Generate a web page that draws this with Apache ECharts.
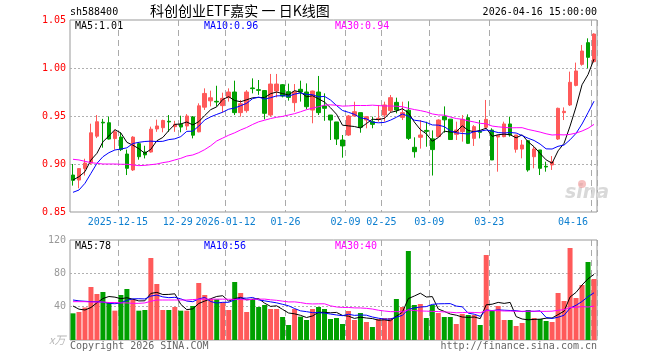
<!DOCTYPE html>
<html>
<head>
<meta charset="utf-8">
<script src="https://cdn.jsdelivr.net/npm/echarts@6.0.0/dist/echarts.min.js"></script>
<style>html,body{margin:0;padding:0;background:#fff;}#c{width:660px;height:360px;}</style>
</head>
<body>
<div id="c"></div>
<script>
// ---- data ----
const dates = [
'2025-12-03','2025-12-04','2025-12-05','2025-12-08','2025-12-09','2025-12-10','2025-12-11','2025-12-12','2025-12-15','2025-12-16',
'2025-12-17','2025-12-18','2025-12-19','2025-12-22','2025-12-23','2025-12-24','2025-12-25','2025-12-26','2025-12-29','2025-12-30',
'2025-12-31','2026-01-05','2026-01-06','2026-01-07','2026-01-08','2026-01-09','2026-01-12','2026-01-13','2026-01-14','2026-01-15',
'2026-01-16','2026-01-19','2026-01-20','2026-01-21','2026-01-22','2026-01-23','2026-01-26','2026-01-27','2026-01-28','2026-01-29',
'2026-01-30','2026-02-02','2026-02-03','2026-02-04','2026-02-05','2026-02-06','2026-02-09','2026-02-10','2026-02-11','2026-02-12',
'2026-02-13','2026-02-24','2026-02-25','2026-02-26','2026-02-27','2026-03-02','2026-03-03','2026-03-04','2026-03-05','2026-03-06',
'2026-03-09','2026-03-10','2026-03-11','2026-03-12','2026-03-13','2026-03-16','2026-03-17','2026-03-18','2026-03-19','2026-03-20',
'2026-03-23','2026-03-24','2026-03-25','2026-03-26','2026-03-27','2026-03-30','2026-03-31','2026-04-01','2026-04-02','2026-04-03',
'2026-04-07','2026-04-08','2026-04-09','2026-04-10','2026-04-13','2026-04-14','2026-04-15','2026-04-16'];

const opens = [
0.8885,0.8833,0.8952,0.9010,0.9290,0.9435,0.9430,0.9265,0.9280,0.9104,
0.8938,0.9212,0.9125,0.9125,0.9365,0.9378,0.9445,0.9389,0.9413,0.9396,
0.9490,0.9335,0.9592,0.9658,0.9653,0.9608,0.9691,0.9750,0.9535,0.9556,
0.9792,0.9774,0.9765,0.9510,0.9760,0.9826,0.9753,0.9639,0.9778,0.9750,
0.9562,0.9750,0.9604,0.9510,0.9438,0.9250,0.9302,0.9500,0.9535,0.9458,
0.9441,0.9465,0.9510,0.9556,0.9642,0.9486,0.9560,0.9174,0.9278,0.9350,
0.9262,0.9285,0.9493,0.9467,0.9309,0.9337,0.9483,0.9267,0.9340,0.9382,
0.9354,0.9281,0.9285,0.9417,0.9153,0.9156,0.9243,0.9076,0.9146,0.8976,
0.8990,0.9260,0.9535,0.9615,0.9819,1.0038,1.0264,1.0066];
const closes = [
0.8830,0.8952,0.9010,0.9325,0.9440,0.9428,0.9260,0.9335,0.9150,0.8955,
0.9280,0.9076,0.9095,0.9363,0.9396,0.9453,0.9438,0.9413,0.9385,0.9500,
0.9300,0.9606,0.9735,0.9690,0.9646,0.9684,0.9750,0.9535,0.9628,0.9750,
0.9785,0.9767,0.9528,0.9833,0.9833,0.9708,0.9694,0.9753,0.9750,0.9597,
0.9760,0.9535,0.9580,0.9458,0.9260,0.9188,0.9500,0.9545,0.9382,0.9493,
0.9413,0.9476,0.9615,0.9691,0.9562,0.9535,0.9267,0.9128,0.9302,0.9340,
0.9150,0.9458,0.9460,0.9255,0.9354,0.9465,0.9215,0.9389,0.9330,0.9465,
0.9042,0.9299,0.9417,0.9302,0.9302,0.9198,0.8938,0.9156,0.8955,0.8969,
0.9024,0.9580,0.9549,0.9851,0.9969,1.0177,1.0111,1.0354];
const highs = [
0.9000,0.8958,0.9055,0.9420,0.9510,0.9470,0.9495,0.9360,0.9330,0.9150,
0.9290,0.9228,0.9190,0.9389,0.9462,0.9462,0.9510,0.9450,0.9503,0.9520,
0.9500,0.9632,0.9788,0.9764,0.9815,0.9743,0.9788,0.9868,0.9667,0.9770,
0.9892,0.9875,0.9770,0.9938,0.9938,0.9833,0.9837,0.9833,0.9868,0.9840,
0.9764,0.9917,0.9736,0.9510,0.9438,0.9302,0.9510,0.9649,0.9535,0.9500,
0.9493,0.9615,0.9649,0.9719,0.9691,0.9649,0.9653,0.9278,0.9458,0.9440,
0.9350,0.9465,0.9600,0.9467,0.9441,0.9510,0.9517,0.9406,0.9458,0.9667,
0.9372,0.9302,0.9441,0.9493,0.9302,0.9250,0.9243,0.9180,0.9146,0.9024,
0.9083,0.9587,0.9590,0.9962,1.0056,1.0240,1.0309,1.0361];
const lows = [
0.8775,0.8747,0.8880,0.8995,0.9270,0.9170,0.9255,0.9150,0.9135,0.8885,
0.8927,0.9045,0.9058,0.9118,0.9335,0.9330,0.9335,0.9335,0.9330,0.9354,
0.9267,0.9330,0.9563,0.9600,0.9600,0.9535,0.9650,0.9510,0.9493,0.9535,
0.9736,0.9720,0.9465,0.9493,0.9694,0.9694,0.9660,0.9545,0.9650,0.9570,
0.9424,0.9510,0.9450,0.9250,0.9198,0.9066,0.9292,0.9493,0.9326,0.9372,
0.9372,0.9441,0.9441,0.9535,0.9528,0.9458,0.9250,0.9066,0.9160,0.9180,
0.8880,0.9278,0.9326,0.9250,0.9250,0.9233,0.9208,0.9188,0.9267,0.9372,
0.9042,0.8920,0.9278,0.9285,0.9118,0.9059,0.8920,0.8955,0.8885,0.8920,
0.8938,0.9250,0.9458,0.9604,0.9809,1.0024,0.9997,1.0056];
// volume, unit: 10k
const volumes = [
32,33.6,39,63.6,55.2,57.6,45.6,35.2,54,61.2,
48.8,35.2,36,98.4,67.2,36,36,39.6,35.2,35.2,
40.8,68.4,54,49.2,48.8,45.2,36,69.6,56.4,33.6,
49.2,39.6,42,37.2,37.2,27.6,18,37.2,28,24,
37.2,39.6,37.2,25.2,26.4,19.2,34.8,24,32.4,21.6,
15.6,25.2,26.4,26.4,49.2,39.6,106.8,42,43.2,26.4,
42,32.4,27.6,27.6,19.2,31.2,30,30,18,102,
34.8,40.8,24,24,16.8,20.4,36,26.4,25.2,22.8,
21.6,56.4,46.8,110.4,50.4,66,93.6,73.2];

// moving-average values before a full window exists
const ma5Lead  = [0.8833,0.8868,0.8920,0.9042];
const ma10Lead = [0.8705,0.8729,0.8799,0.8903,0.9007,0.9076,0.9118,0.9146,0.9156];
const ma30Lead = [0.9049,0.9042,0.9028,0.9014,0.9007,0.9000,0.9000,0.9000,0.8997,0.8997,
  0.8990,0.8983,0.8986,0.8993,0.9000,0.9014,0.9024,0.9042,0.9059,0.9083,
  0.9094,0.9118,0.9150,0.9190,0.9240,0.9270,0.9300,0.9325,0.9355];
const volMa5Lead  = [40.8,37,36,39];
const volMa10Lead = [48,47,46.5,46,46,45.5,44,43.5,44.5];
const volMa30Lead = [46,46,46,45.6,45.6,45.6,45,45,44.5,44.5,44,44,44.5,46.5,48,48,48,48,48,48,48.5,49,49,49,49,49,48.9,48.8,48.6];

// x tick labels
const tickLabels = {
 '2025-12-15':'2025-12-15','2025-12-29':'12-29','2026-01-12':'2026-01-12','2026-01-26':'01-26',
 '2026-02-09':'02-09','2026-02-25':'02-25','2026-03-09':'03-09','2026-03-23':'03-23','2026-04-16':'04-16'};
const priceTicks = [0.85, 0.90, 0.95, 1.00, 1.05];
const volTicks = [40, 80, 120];

// ---- derived ----
function movingAvg(vals, n, lead) {
  return vals.map((v, i) => {
    if (i < n - 1) return lead[i];
    let s = 0; for (let k = i - n + 1; k <= i; k++) s += vals[k];
    return +(s / n).toFixed(5);
  });
}
const ma5 = movingAvg(closes, 5, ma5Lead);
const ma10 = movingAvg(closes, 10, ma10Lead);
const ma30 = movingAvg(closes, 30, ma30Lead);
const vma5 = movingAvg(volumes, 5, volMa5Lead);
const vma10 = movingAvg(volumes, 10, volMa10Lead);
const vma30 = movingAvg(volumes, 30, volMa30Lead);

const UP = '#ff5a5a', DOWN = '#00a000';
const kData = dates.map((d, i) => [opens[i], closes[i], lows[i], highs[i]]);
const volData = volumes.map((v, i) => ({value: v, itemStyle: {color: closes[i] > opens[i] ? UP : DOWN}}));

const MONO = '"DejaVu Sans Mono", "Liberation Mono", monospace';
const showTick = (idx, val) => tickLabels.hasOwnProperty(val);
const gridDash = {color: '#aaaaaa', type: [6, 4], width: 1};
const gridDot = {color: '#b0b0b0', type: [2, 2], width: 1};

function lineSeries(name, data, color, xi, yi) {
  return {name, type: 'line', data, xAxisIndex: xi, yAxisIndex: yi, showSymbol: false, symbol: 'none',
    lineStyle: {color, width: 1}, itemStyle: {color}, z: 5, silent: true};
}

const chart = echarts.init(document.getElementById('c'), null, {renderer: 'canvas'});
chart.setOption({
  animation: false,
  backgroundColor: '#fff',
  grid: [
    {left: 70, top: 20, width: 527, height: 192, show: true, borderColor: '#999', borderWidth: 1},
    {left: 70, top: 240, width: 527, height: 100, show: true, borderColor: '#999', borderWidth: 1}
  ],
  xAxis: [
    {type: 'category', gridIndex: 0, data: dates, boundaryGap: true,
      axisLine: {show: false}, axisTick: {show: false},
      axisLabel: {interval: showTick, formatter: v => tickLabels[v] || '', color: '#0d7fd0',
        fontFamily: MONO, fontSize: 10, margin: 5, padding: [0, 6, 0, 0], alignMaxLabel: 'right'},
      splitLine: {show: true, interval: showTick, lineStyle: gridDash}},
    {type: 'category', gridIndex: 1, data: dates, boundaryGap: true,
      axisLine: {show: false}, axisTick: {show: false}, axisLabel: {show: false},
      splitLine: {show: true, interval: showTick, lineStyle: gridDash}}
  ],
  yAxis: [
    {type: 'value', gridIndex: 0, min: priceTicks[0], max: priceTicks[priceTicks.length - 1], interval: 0.05,
      axisLine: {show: false}, axisTick: {show: false},
      axisLabel: {formatter: v => v.toFixed(2), color: '#ff0000', fontFamily: MONO, fontSize: 10, margin: 4},
      splitLine: {show: true, showMinLine: false, showMaxLine: false, lineStyle: gridDot}},
    {type: 'value', gridIndex: 1, min: 0, max: volTicks[volTicks.length - 1], interval: 40,
      axisLine: {show: false}, axisTick: {show: false},
      axisLabel: {formatter: v => (volTicks.indexOf(v) >= 0 ? String(v) : ''), color: '#999', fontFamily: MONO, fontSize: 10, margin: 4},
      splitLine: {show: true, showMinLine: false, showMaxLine: false, lineStyle: gridDot}}
  ],
  series: [
    {name: 'K', type: 'candlestick', data: kData, xAxisIndex: 0, yAxisIndex: 0, barWidth: 4,
      itemStyle: {color: UP, color0: DOWN, borderColor: UP, borderColor0: DOWN, borderWidth: 1}, z: 3, silent: true},
    lineSeries('MA5', ma5, '#000000', 0, 0),
    lineSeries('MA10', ma10, '#0000ff', 0, 0),
    lineSeries('MA30', ma30, '#ff00ff', 0, 0),
    {name: 'VOL', type: 'bar', data: volData, xAxisIndex: 1, yAxisIndex: 1, barWidth: 5, z: 3, silent: true},
    lineSeries('VMA5', vma5, '#000000', 1, 1),
    lineSeries('VMA10', vma10, '#0000ff', 1, 1),
    lineSeries('VMA30', vma30, '#ff00ff', 1, 1)
  ],
  graphic: [
    {type: 'text', left: 70, top: 7, style: {text: 'sh588400', font: '10px ' + MONO, fill: '#000'}},
    {type: 'text', left: 150, top: 4, style: {text: '科创创业ETF嘉实 一 日K线图', font: '14px "Noto Sans CJK SC"', fill: '#000'}},
    {type: 'text', right: 63, top: 7, style: {text: '2026-04-16 15:00:00', font: '10px ' + MONO, fill: '#000'}},
    {type: 'text', left: 75, top: 21, style: {text: 'MA5:1.01', font: '10px ' + MONO, fill: '#000'}},
    {type: 'text', left: 204, top: 21, style: {text: 'MA10:0.96', font: '10px ' + MONO, fill: '#0000ff'}},
    {type: 'text', left: 335, top: 21, style: {text: 'MA30:0.94', font: '10px ' + MONO, fill: '#ff00ff'}},
    {type: 'text', left: 75, top: 241, style: {text: 'MA5:78', font: '10px ' + MONO, fill: '#000'}},
    {type: 'text', left: 204, top: 241, style: {text: 'MA10:56', font: '10px ' + MONO, fill: '#0000ff'}},
    {type: 'text', left: 335, top: 241, style: {text: 'MA30:40', font: '10px ' + MONO, fill: '#ff00ff'}},
    {type: 'text', left: 49, top: 334, style: {text: 'x万', font: 'italic 11px "Noto Sans CJK SC"', fill: '#b8b8b8'}},
    {type: 'text', left: 70, top: 341, style: {text: 'Copyright 2026 SINA.COM', font: '10px ' + MONO, fill: '#666'}},
    {type: 'text', right: 63, top: 341, style: {text: 'http://finance.sina.com.cn', font: '10px ' + MONO, fill: '#666'}},
    {type: 'text', left: 565, top: 184, z: 1, style: {text: 'sina', font: 'italic bold 19px "DejaVu Sans"', fill: '#d9d9d9'}},
    {type: 'circle', left: 578, top: 180, z: 1, shape: {r: 4}, style: {fill: 'rgba(240,150,150,0.6)'}}
  ]
});
</script>
</body>
</html>
